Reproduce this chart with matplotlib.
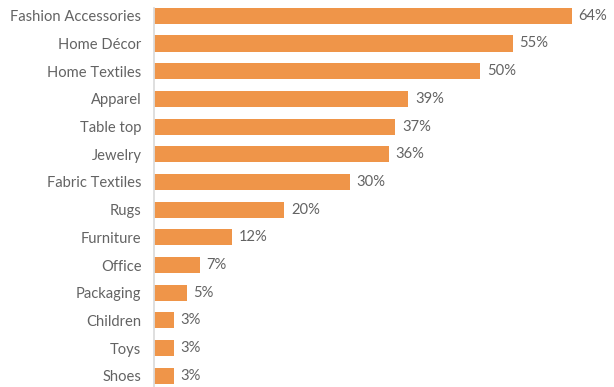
import matplotlib.pyplot as plt

categories = ["Fashion Accessories", "Home Décor", "Home Textiles", "Apparel",
              "Table top", "Jewelry", "Fabric Textiles", "Rugs", "Furniture",
              "Office", "Packaging", "Children", "Toys", "Shoes"]
values = [64, 55, 50, 39, 37, 36, 30, 20, 12, 7, 5, 3, 3, 3]

plt.rcParams['font.family'] = ['Lato', 'DejaVu Sans']
text_color = '#636363'
bar_color = '#EF9549'

fig = plt.figure(figsize=(6.14, 3.87), dpi=100)
ax = fig.add_axes([0.2508, -0.007, 0.73, 1.002])

pos = range(len(categories))
ax.barh(pos, values, height=0.58, color=bar_color)
ax.set_ylim(len(categories) - 0.5, -0.5)
ax.set_xlim(0, 68.7)

for y, v in zip(pos, values):
    ax.text(v + 1.0, y, f"{v}%", va='center', ha='left', fontsize=10.6, color=text_color)

ax.set_yticks(list(pos))
ax.set_yticklabels(categories, fontsize=10.6, color=text_color)
ax.tick_params(axis='y', length=0, pad=9)
ax.set_xticks([])

for side in ['top', 'right', 'bottom']:
    ax.spines[side].set_visible(False)
ax.spines['left'].set_color('#dcdcdc')
ax.spines['left'].set_linewidth(1.3)
ax.spines['left'].set_bounds(len(categories) - 0.5, -0.28)

fig.savefig('out.png', dpi=100)
